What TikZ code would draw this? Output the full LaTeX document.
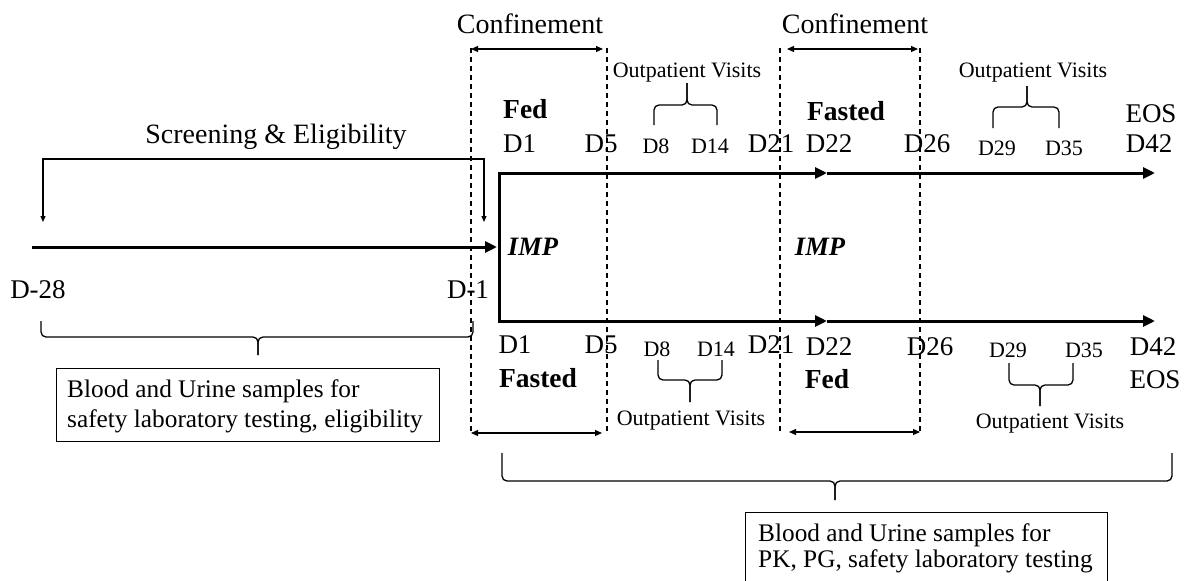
\documentclass[tikz,border=0pt]{standalone}
\usepackage{fontspec}
\setmainfont{Liberation Serif}
\usetikzlibrary{arrows.meta}
\newcommand\drawbrace[6]{% x1, x2, xc, yend, yh, ytip
  \coordinate (bA) at (#1,#4); \coordinate (bB) at (#1,#5);
  \coordinate (bC) at (#3,#5); \coordinate (bD) at (#3,#6);
  \coordinate (bE) at (#2,#4); \coordinate (bF) at (#2,#5);
  \draw[bracestyle] (bA) -- (bB) -- (bC) -- (bD);
  \draw[bracestyle] (bE) -- (bF) -- (bC) -- (bD);}
\begin{document}
\begin{tikzpicture}[x=1pt,y=-1pt,
  lbl/.style={inner sep=0pt, anchor=base, font=\fontsize{27}{30}\selectfont},
  sml/.style={inner sep=0pt, anchor=base, font=\fontsize{22}{26}\selectfont},
  hd/.style={inner sep=0pt, anchor=base, font=\fontsize{28}{32}\selectfont},
  bld/.style={inner sep=0pt, anchor=base, font=\fontsize{27.5}{32}\selectfont\bfseries},
  imp/.style={inner sep=0pt, anchor=base, font=\fontsize{26.5}{30}\selectfont\bfseries\itshape},
  boxtext/.style={inner sep=0pt, anchor=base west, font=\fontsize{25.3}{30}\selectfont},
  mainline/.style={line width=3pt, -{Triangle[length=12pt,width=11pt]}},
  thinline/.style={line width=1.2pt},
  dashline/.style={line width=1.2pt, dash pattern=on 5pt off 4pt},
  conf/.style={line width=1.2pt, {Triangle[length=7pt,width=6pt]}-{Triangle[length=7pt,width=6pt]}},
  bracestyle/.style={line width=1.3pt, rounded corners=5pt},
  boxframe/.style={draw, line width=1.3pt, anchor=north west, inner sep=0pt}
]
\useasboundingbox (0,0) rectangle (1184,581);

% dashed confinement boundaries
\foreach \x/\n in {471/a,607/b,780/c,920/d}{
  \coordinate (dt\n) at (\x,48); \coordinate (db\n) at (\x,433);
  \draw[dashline] (dt\n) -- (db\n);
}

% main timeline
\coordinate (m0) at (32,247);
\coordinate (m1) at (497,247);
\draw[mainline] (m0) -- (m1);
\coordinate (vt) at (499,173);
\coordinate (vb) at (499,321);
\draw[line width=3pt, line cap=rect] (vt) -- (vb);
\coordinate (t1) at (827,173); \coordinate (t2) at (1155,173);
\coordinate (b1) at (827,321); \coordinate (b2) at (1155,321);
\draw[mainline] (vt) -- (t1);
\draw[mainline] (t1) -- (t2);
\draw[mainline] (vb) -- (b1);
\draw[mainline] (b1) -- (b2);

% screening bracket
\coordinate (s1) at (43,222); \coordinate (s2) at (43,159);
\coordinate (s3) at (484,159); \coordinate (s4) at (484,222);
\draw[thinline, {Triangle[length=6pt,width=5pt]}-{Triangle[length=6pt,width=5pt]}] (s1) -- (s2) -- (s3) -- (s4);
\node[hd] (scr) at (276,143) {Screening \& Eligibility};

% confinement arrows
\coordinate (ca1) at (471,49); \coordinate (ca2) at (603,49);
\coordinate (ca3) at (787,49); \coordinate (ca4) at (918,49);
\draw[conf] (ca1) -- (ca2);
\draw[conf] (ca3) -- (ca4);
\node[hd] (conf1) at (530,33) {Confinement};
\node[hd] (conf2) at (855,33) {Confinement};
\coordinate (cb1) at (471,433); \coordinate (cb2) at (602,433);
\coordinate (cb3) at (789,432); \coordinate (cb4) at (920,432);
\draw[conf] (cb1) -- (cb2);
\draw[conf] (cb3) -- (cb4);

% top labels
\node[bld, anchor=base west] (fedt) at (503,118) {Fed};
\node[lbl, anchor=base west] (d1t) at (503,152) {D1};
\node[lbl] (d5t) at (601,152) {D5};
\node[sml] (d8t) at (656,153) {D8};
\node[sml] (d14t) at (710,153) {D14};
\node[lbl] (d21t) at (771,152) {D21};
\node[lbl] (d22t) at (829,152) {D22};
\node[bld] (fastt) at (846,120) {Fasted};
\node[lbl] (d26t) at (927,152) {D26};
\node[sml] (d29t) at (997,155) {D29};
\node[sml] (d35t) at (1064,155) {D35};
\node[lbl] (d42t) at (1149,152) {D42};
\node[lbl] (eost) at (1151,122) {EOS};
\node[sml] (ov1) at (687,77) {Outpatient Visits};
\node[sml] (ov2) at (1033,77) {Outpatient Visits};
\drawbrace{654}{717}{687}{125}{105}{83}
\drawbrace{993}{1059}{1027}{128}{107}{86}

% middle labels
\node[lbl] (dm28) at (38,298) {D-28};
\node[lbl] (dm1) at (468,298) {D-1};
\node[imp] (imp1) at (533,255) {IMP};
\node[imp] (imp2) at (820,255) {IMP};

% bottom labels
\node[lbl] (d1b) at (515,353) {D1};
\node[lbl] (d5b) at (601,353) {D5};
\node[sml] (d8b) at (657,356) {D8};
\node[sml] (d14b) at (716,356) {D14};
\node[lbl] (d21b) at (771,353) {D21};
\node[lbl] (d22b) at (829,355) {D22};
\node[lbl] (d26b) at (930,355) {D26};
\node[sml] (d29b) at (1008,357) {D29};
\node[sml] (d35b) at (1084,357) {D35};
\node[lbl] (d42b) at (1153,355) {D42};
\node[bld] (fastb) at (538,387) {Fasted};
\node[bld] (fedb) at (827,388) {Fed};
\node[lbl] (eosb) at (1155,388) {EOS};
\node[sml] (ov3) at (691,425) {Outpatient Visits};
\node[sml] (ov4) at (1050,428) {Outpatient Visits};
\drawbrace{658}{722}{690}{360}{380}{402}
\drawbrace{1009}{1073}{1040}{363}{385}{406}

% sample braces and boxes
\drawbrace{41}{473}{258}{321}{337}{355}
\node[boxframe, minimum width=383pt, minimum height=73pt] (box1) at (56,368) {};
\node[boxtext] (box1a) at (67,397) {Blood and Urine samples for};
\node[boxtext] (box1b) at (67,427) {safety laboratory testing, eligibility};
\drawbrace{502}{1172}{835}{453}{481}{500}
\node[boxframe, minimum width=362pt, minimum height=90pt] (box2) at (745,512) {};
\node[boxtext] (box2a) at (758,541) {Blood and Urine samples for};
\node[boxtext] (box2b) at (758,567) {PK, PG, safety laboratory testing};
\end{tikzpicture}
\end{document}
